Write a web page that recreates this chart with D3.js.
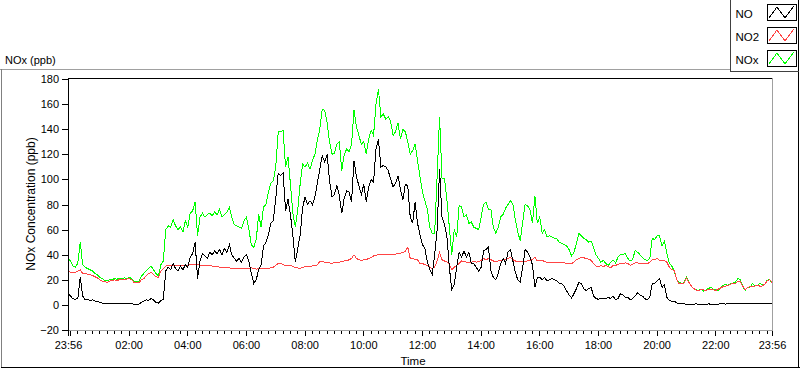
<!DOCTYPE html>
<html><head><meta charset="utf-8">
<script src="https://cdn.jsdelivr.net/npm/d3@7"></script>
<style>
html,body{margin:0;padding:0;background:#fff;}
svg{display:block;font-family:"Liberation Sans",Arial,sans-serif;}
</style></head><body>
<svg id="chart" width="800" height="369"></svg>
<script>
// ---------------- data ----------------
const seriesNames = ["NO", "NO2", "NOx"];
const startTime = "2000-01-01T23:56:00";
const endTime = "2000-01-02T23:56:00";
const stepMinutes = 5;

const NO = [
9,7,5,4.5,5,22,7,4,4.5,3.5,
4,3,3,2,1.5,1.2,1,1,0.8,1,
1,0.8,1,1,1.2,1,1,0.5,0.3,0.5,
2,3,4,3.5,5,4,2,1.5,3.5,4.5,
27,30,28,33,29,27,31,28,32,30,
38,41,50,21,35,41,39,37,42,40,
43,41,44,40,45,42,48,40,37,35,
37,34,38,40,35,25,17,20,28,32,
47,50,56,65,67,85,105,103,105,75,
84,72,55,34,45,56,78,86,80,83,
80,86,97,108,119,114,120,99,86,88,
95,87,73,85,91,90,82,115,102,95,
88,96,82,94,100,98,124,132,110,111,
110,107,100,94,97,103,92,84,96,95,
70,65,82,65,56,48,45,34,28,24,
40,60,108,70,64,55,30,12,16,30,
42,38,43,38,42,33,33,30,27,30,
43,44,46,27,22,20,25,33,37,33,
42,44,35,26,20,18,30,44,42,38,
32,14,22,22,20,22,19,20,21,20,
19,17,17,15,11,8,5.5,9,13,18,
17,13,11.5,13,14,7,5,4.5,5,5,
5,6,5,7,4,5,9,8,6,6,
4,5,7,9.5,8,7,5,4,6,17,
17,19,21,14,16,6,3.5,3,3,1.5,
1,1,0.8,0.5,0.5,0.7,0.6,0.8,0.5,0.7,
0.6,0.5,0.8,0.6,0.7,0.5,0.6,1,0.8,0.7,
1.2,0.8,1,0.9,1.3,1.5,0.7,1,0.8,0.9,
1,1.5,1.2,0.8,1,1.1,1.3,1,1
];

const NO2 = [
27.5,26,25.5,26,27,28,25,25,24.5,24,
23.5,22.5,21.5,20,19,18.5,18,19,19.5,20,
19.5,20,20.5,20,20.5,21,20,18,17.5,17.5,
20,21,23,25,26,24,22.5,22,27,29,
31,31,31,31,31,31,31,31,31.5,31.5,
32,32,32.5,32,31.5,31.5,31,31.5,31,31,
30.5,30.5,30,30,30,29.5,29.5,29,29,29,
29,29,29,29,29,29.5,29,28.5,29,29,
29,29,29,29.5,30,31.5,33,33,32,31,
31,31.5,30.5,29.5,29.5,29,30,30.5,30.5,30.5,
31,31,32,34.5,35,34,33.5,33.5,33,34,
34,34,34.5,35,35,36,37,40,37,36,
35.5,36,36,37,37.5,39,39.5,40,40,40,
40.3,40.3,40.5,40,40.5,41,41,42,42.5,46,
37,37,36,36,33,33,32,31.5,30,29,
30,35,42,36,35,34.5,32.5,28,30,31.5,
33,35,34.5,34,34,34,35,34,34.5,35.5,
37,36,37,36,35,34.5,35,35.5,36,36,
37,38,36,35,34.5,34.5,34.5,34.5,35,35.5,
36,38,35,35,35.5,34.5,34,34,33.5,33.5,
33.5,33.5,33.5,33.5,33,33,33,34,36,37,
38,37.5,37,36.5,35.5,33,31,30.5,31.5,30.5,
31.5,30.5,29.6,31.5,31.5,32.3,32.8,32.8,33.5,33,
31.5,32.5,33.5,33.5,32.5,33,33,32.8,34,36,
36,37,35.5,35.5,35.5,34,30,28,27.5,20,
17,17,17.5,21.5,18,15,13,11.6,11.6,12,
12,11.5,12.5,12,12,11.6,12.5,13.5,14.5,15,
15.5,16.5,17,17,19,18.5,15,12,14,14.5,
14.5,15,15.5,15,15,16.5,19,20,18
];

const NOx = [
37,35,31,30,33,50,32,30,29,28,
27,25,24,22,21,19.5,19,20,20,21,
20.5,21,21,21.5,21,22,21,19,18.5,19,
23,25,27,29,31,28,25,23,32,35,
60,63,62,68,63,60,62,58,67,62,
73,75,82,55,70,73,70,72,73,71,
74,72,76,70,72,74,78,70,64,63,
62,61,67,70,60,48,46,52,72,62,
78,80,90,97,99,110,138,138,139,110,
118,96,73,62,76,97,112,110,113,108,
115,120,131,140,156,155,145,130,120,121,
128,130,107,120,124,122,128,155,142,135,
128,130,120,132,139,135,160,172,150,152,
148,150,146,135,138,145,132,140,138,130,
120,123,128,115,102,90,83,76,62,57,
57,102,150,101,101,84,62,40,60,54,
79,78,70,72,65,66,62,61,60,70,
80,82,76,76,62,57,62,70,72,77,
80,83,80,68,58,51,66,80,79,76,
65,87,65,70,57,60,54,55,54,53,
52.5,50,49,48,47,44,39,42,49,57,
55,53,52,50,51,46,40,37,34,35.5,
33,31.5,34,35.5,33.5,38,40,40,41,37,
35,36,43.5,42,40,38,36,35.5,37,53,
52,55,55,47,51,41,33,31,27,20,
18,17,18,22,18,15,13,12,11.5,12.5,
11,12,13,14,12.5,12,11.5,14,15.5,16.5,
15.5,17,17.5,18,21,20,15,11.5,14,14,
17,15,15.5,17,16,16,19.5,20.5,17.5
];

const yTickValues = [-20, 0, 20, 40, 60, 80, 100, 120, 140, 160, 180];
const xTickLabels = ["23:56","02:00","04:00","06:00","08:00","10:00","12:00","14:00","16:00","18:00","20:00","22:00","23:56"];
const titleText = "NOx (ppb)";
const yLabelText = "NOx Concentration (ppb)";
const xLabelText = "Time";

// ---------------- styles ----------------
const colors = { NO: "#000000", NO2: "#ff4444", NOx: "#00ff00" };
const drawOrder = ["NOx", "NO2", "NO"];

// ---------------- drawing ----------------
const svg = d3.select("#chart");
const plot = { left: 68, right: 772, top: 79, bottom: 330 };

const t0 = new Date(startTime), t1 = new Date(endTime);
const x = d3.scaleTime().domain([t0, t1]).range([plot.left, plot.right]);
const y = d3.scaleLinear().domain([-20, 180]).range([plot.bottom, plot.top]);

const dataBySeries = { NO, NO2, NOx };
const timeAt = i => d3.timeMinute.offset(t0, i * stepMinutes);

// outer frame
const frame = svg.append("g").attr("shape-rendering", "crispEdges");
frame.append("line").attr("x1", 0).attr("x2", 730).attr("y1", 69.5).attr("y2", 69.5).attr("stroke", "#a0a0a0");
frame.append("line").attr("x1", 1.5).attr("x2", 1.5).attr("y1", 69).attr("y2", 368).attr("stroke", "#808080");
frame.append("line").attr("x1", 1).attr("x2", 800).attr("y1", 367.5).attr("y2", 367.5).attr("stroke", "#000");
frame.append("line").attr("x1", 798.5).attr("x2", 798.5).attr("y1", 0).attr("y2", 368).attr("stroke", "#000");

// title
svg.append("text").attr("x", 5).attr("y", 64).attr("font-size", "11px").attr("fill", "#000").text(titleText);

// plot borders
const border = svg.append("g").attr("shape-rendering", "crispEdges");
border.append("line").attr("x1", plot.left).attr("x2", plot.right + 1).attr("y1", 78.5).attr("y2", 78.5).attr("stroke", "#000");
border.append("line").attr("x1", plot.right + 0.5).attr("x2", plot.right + 0.5).attr("y1", 78).attr("y2", 331).attr("stroke", "#a0a0a0");
border.append("line").attr("x1", plot.left).attr("x2", plot.right + 1).attr("y1", 330.5).attr("y2", 330.5).attr("stroke", "#a0a0a0");

// data lines
svg.append("clipPath").attr("id", "clip").append("rect")
  .attr("x", plot.left + 1).attr("y", 79).attr("width", plot.right - plot.left - 1).attr("height", 251);
const lineGen = d3.line().x((d, i) => x(timeAt(i))).y(d => y(d));
const lines = svg.append("g").attr("clip-path", "url(#clip)");
drawOrder.forEach(name => {
  lines.append("path")
    .attr("d", lineGen(dataBySeries[name]))
    .attr("fill", "none")
    .attr("stroke", colors[name])
    .attr("stroke-width", 1)
    .attr("shape-rendering", "crispEdges");
});

// left axis line
border.append("line").attr("x1", plot.left + 0.5).attr("x2", plot.left + 0.5).attr("y1", 78).attr("y2", 331).attr("stroke", "#000");

// y axis
const yAxis = d3.axisLeft(y).tickValues(yTickValues).tickSize(6).tickSizeOuter(0).tickPadding(3).tickFormat(d3.format("d"));
const gy = svg.append("g").attr("transform", `translate(${plot.left},0)`).call(yAxis);
gy.select(".domain").remove();
gy.selectAll(".tick line").attr("stroke", "#000").attr("shape-rendering", "crispEdges");
gy.selectAll(".tick text").attr("font-size", "11px").attr("font-family", "Liberation Sans, Arial, sans-serif").attr("fill", "#000");

// x axis ticks
const parseClock = (s, k) => {
  const [h, m] = s.split(":").map(Number);
  const base = k === 0 ? d3.timeDay.floor(t0) : d3.timeDay.floor(t1);
  return d3.timeMinute.offset(base, h * 60 + m);
};
const labelTimes = xTickLabels.map(parseClock);
const midnight = d3.timeDay.ceil(t0);
const majorTimes = labelTimes.concat([midnight]);
const labelMap = new Map(labelTimes.map((t, k) => [+t, xTickLabels[k]]));

const minorTimes = d3.timeMinute.every(15).range(midnight, t1);
const xMinor = d3.axisBottom(x).tickValues(minorTimes).tickSize(3).tickSizeOuter(0).tickFormat("");
const gxm = svg.append("g").attr("transform", `translate(0,331)`).call(xMinor);
gxm.select(".domain").remove();
gxm.selectAll(".tick line").attr("stroke", "#000").attr("shape-rendering", "crispEdges");

const xMajor = d3.axisBottom(x).tickValues(majorTimes).tickSize(5).tickSizeOuter(0).tickPadding(5)
  .tickFormat(d => labelMap.get(+d) || "");
const gx = svg.append("g").attr("transform", `translate(0,331)`).call(xMajor);
gx.select(".domain").remove();
gx.selectAll(".tick line").attr("stroke", "#000").attr("shape-rendering", "crispEdges");
gx.selectAll(".tick text").attr("font-size", "11px").attr("font-family", "Liberation Sans, Arial, sans-serif").attr("fill", "#000");

// axis labels
svg.append("text").attr("transform", "translate(35,204) rotate(-90)").attr("text-anchor", "middle")
  .attr("font-size", "12px").attr("fill", "#000").text(yLabelText);
svg.append("text").attr("x", 413).attr("y", 365).attr("text-anchor", "middle")
  .attr("font-size", "11.5px").attr("fill", "#000").text(xLabelText);

// legend
const lg = svg.append("g");
lg.append("line").attr("x1", 730.5).attr("x2", 730.5).attr("y1", 0).attr("y2", 72).attr("stroke", "#404040").attr("shape-rendering", "crispEdges");
lg.append("line").attr("x1", 730).attr("x2", 799).attr("y1", 71.5).attr("y2", 71.5).attr("stroke", "#404040").attr("shape-rendering", "crispEdges");
seriesNames.forEach((name, k) => {
  const top = 4 + k * 23;
  lg.append("text").attr("x", 735.5).attr("y", top + 13.5).attr("font-size", "11.5px").attr("fill", "#000").text(name);
  lg.append("rect").attr("x", 767.5).attr("y", top + 0.5).attr("width", 29).attr("height", 16)
    .attr("fill", "#fff").attr("stroke", "#000").attr("shape-rendering", "crispEdges");
  const sx = 767, sy = top;
  lg.append("polyline")
    .attr("points", [[sx + 2, sy + 14], [sx + 10, sy + 3], [sx + 18, sy + 14], [sx + 27, sy + 2]].map(p => p.join(",")).join(" "))
    .attr("fill", "none").attr("stroke", colors[name]).attr("stroke-width", 1).attr("shape-rendering", "crispEdges");
});
</script>
</body></html>
